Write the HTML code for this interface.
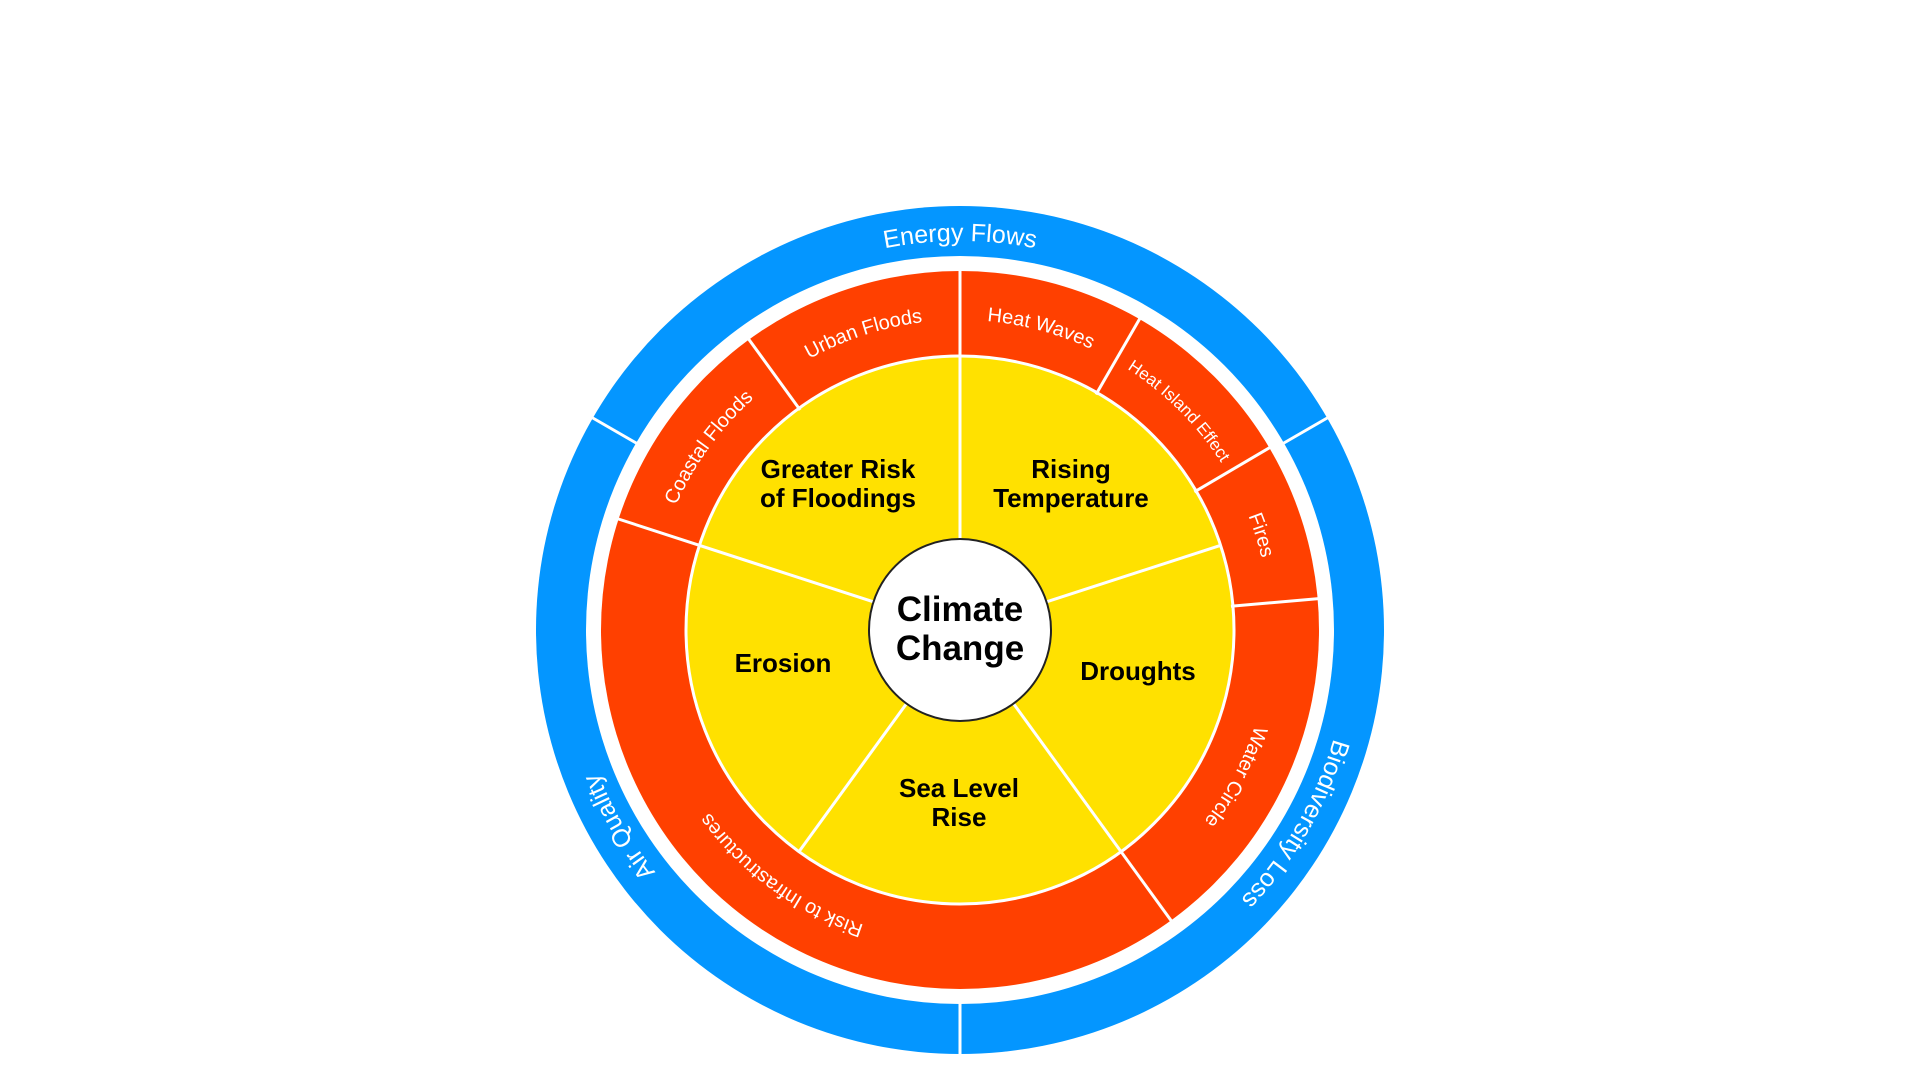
<!DOCTYPE html>
<html><head><meta charset="utf-8"><style>
html,body{margin:0;padding:0;background:#fff;}
svg{display:block;}
.w{font-family:"Liberation Sans",sans-serif;fill:#fff;}
.b{font-family:"Liberation Sans",sans-serif;font-weight:bold;fill:#000;text-anchor:middle;}
</style></head><body>
<svg width="1920" height="1080" viewBox="0 0 1920 1080" xmlns="http://www.w3.org/2000/svg">
<defs>
<path id="rb" d="M623.1,435.5 A389,389 0 0 1 1296.9,435.5"/>
<path id="ro" d="M691.5,475 A310,310 0 0 1 1228.5,475"/>
</defs>
<circle cx="960" cy="630" r="424" fill="#0496FF"/>
<circle cx="960" cy="630" r="374" fill="#fff"/>
<circle cx="960" cy="630" r="359" fill="#FF4000"/>
<circle cx="960" cy="630" r="274" fill="#FFE100" stroke="#fff" stroke-width="3"/>
<g stroke="#fff" stroke-width="3">
<line x1="1328" y1="630" x2="1390" y2="630" transform="rotate(210 960 630)"/>
<line x1="1328" y1="630" x2="1390" y2="630" transform="rotate(330 960 630)"/>
<line x1="1328" y1="630" x2="1390" y2="630" transform="rotate(90 960 630)"/>
<line x1="1232" y1="630" x2="1320" y2="630" transform="rotate(-60 960 630)"/>
<line x1="1232" y1="630" x2="1320" y2="630" transform="rotate(-30.5 960 630)"/>
<line x1="1232" y1="630" x2="1320" y2="630" transform="rotate(-5 960 630)"/>
<line x1="1232" y1="630" x2="1320" y2="630" transform="rotate(234 960 630)"/>
<line x1="1045" y1="630" x2="1320" y2="630" transform="rotate(-90 960 630)"/>
<line x1="1045" y1="630" x2="1320" y2="630" transform="rotate(54 960 630)"/>
<line x1="1045" y1="630" x2="1320" y2="630" transform="rotate(198 960 630)"/>
<line x1="1045" y1="630" x2="1235" y2="630" transform="rotate(-18 960 630)"/>
<line x1="1045" y1="630" x2="1235" y2="630" transform="rotate(126 960 630)"/>
</g>
<circle cx="960" cy="630" r="91" fill="#fff" stroke="#222" stroke-width="2"/>

<g class="w" font-size="25">
<text text-anchor="middle"><textPath href="#rb" startOffset="50%">Energy Flows</textPath></text>
<g transform="rotate(120 960 630)"><text text-anchor="middle"><textPath href="#rb" startOffset="50%">Biodiversity Loss</textPath></text></g>
<g transform="rotate(240 960 630)"><text text-anchor="middle"><textPath href="#rb" startOffset="50%">Air Quality</textPath></text></g>
</g>
<g class="w" font-size="20">
<g transform="rotate(-18 960 630)"><text text-anchor="middle"><textPath href="#ro" startOffset="50%">Urban Floods</textPath></text></g>
<g transform="rotate(15 960 630)"><text text-anchor="middle"><textPath href="#ro" startOffset="50%">Heat Waves</textPath></text></g>
<g transform="rotate(45 960 630)"><text text-anchor="middle" font-size="17"><textPath href="#ro" startOffset="50%">Heat Island Effect</textPath></text></g>
<g transform="rotate(72.5 960 630)"><text text-anchor="middle"><textPath href="#ro" startOffset="50%">Fires</textPath></text></g>
<g transform="rotate(118 960 630)"><text text-anchor="middle"><textPath href="#ro" startOffset="50%">Water Circle</textPath></text></g>
<g transform="rotate(216 960 630)"><text text-anchor="middle"><textPath href="#ro" startOffset="50%">Risk to Infrastructures</textPath></text></g>
<g transform="rotate(-54 960 630)"><text text-anchor="middle"><textPath href="#ro" startOffset="50%">Coastal Floods</textPath></text></g>
</g>

<g class="b" font-size="26">
<text x="838" y="478">Greater Risk</text>
<text x="838" y="507">of Floodings</text>
<text x="1071" y="478">Rising</text>
<text x="1071" y="507">Temperature</text>
<text x="783" y="672">Erosion</text>
<text x="1138" y="680">Droughts</text>
<text x="959" y="797">Sea Level</text>
<text x="959" y="826">Rise</text>
</g>
<g class="b" font-size="35">
<text x="960" y="621">Climate</text>
<text x="960" y="660">Change</text>
</g>
</svg>
</body></html>
